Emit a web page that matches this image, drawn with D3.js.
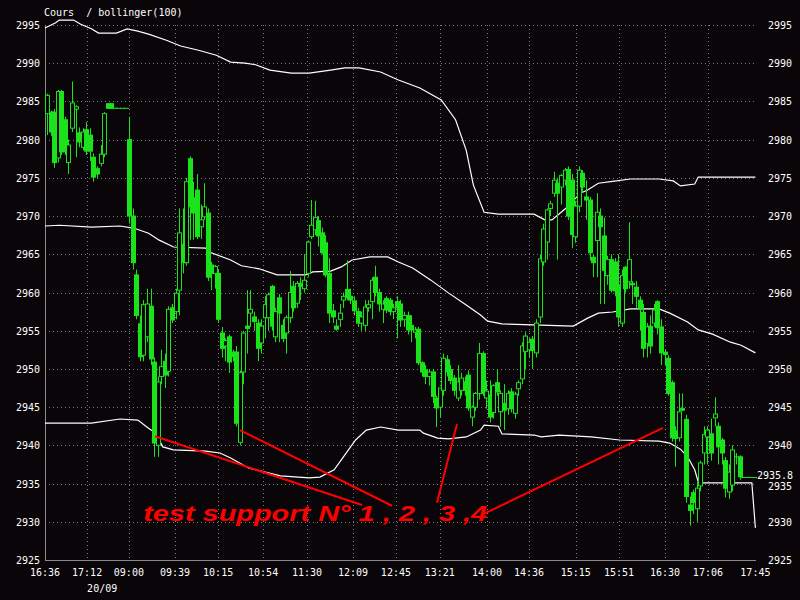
<!DOCTYPE html>
<html><head><meta charset="utf-8">
<script src="https://cdn.jsdelivr.net/npm/d3@7"></script>
<style>
html,body{margin:0;padding:0;background:#0a0508;}
svg{display:block;}
text{font-family:"DejaVu Sans Mono",monospace;font-size:10px;fill:#ffffff;}
</style></head><body>
<svg id="c" width="800" height="600"></svg>
<script>
// ---- data (3-minute candles, index = slot) ----
const opens = [2983.4,2983.6,2983.6,2977.6,2986.3,2982.6,2977,2981.5,2984,2980.9,2979,2981.3,2980.6,2977.7,2976.2,2976.9,2978.1,2984.7,2984.7,2984.1,2984.1,2984.1,2984.1,
2980,2970,2962.3,2955.9,2951.8,2954.2,2958.2,2950.9,2940,2949,2951,2949.7,2958,2957.5,2960.3,2966.3,2963.9,2977.5,2972.4,2973.4,2968.6,2969.9,2970.4,2963.6,2962.5,2962.5,2954.7,2953,2954.2,2952.2,2952.2,2940.4,2949.6,2955.6,2957.3,2956.8,2956,
2953.4,2956.7,2956.7,2960.8,2954.2,2959.3,2955.7,2954.7,2956.7,2960.8,2958.6,2961.2,2960.5,2962.5,2967.3,2968.2,2969.4,2967.8,2966.5,2962.5,2957.6,2955.6,2956.5,2959,2960.4,2959.5,2958.9,2957.5,2956,2955.7,2958,2958.8,2962,2960,2957.8,2959.2,2959,2957.5,2958.8,2958.5,
2956.5,2957,2955.7,2954.8,2955.2,2950.8,2949.9,2949,2949.6,2946.2,2945,2947.2,2951.2,2949.9,2948.8,2946.2,2947.2,2948.3,2949.2,2943.7,2945,2946.8,2952,2946.2,2946.6,2944.3,2948.2,2944.4,2945.5,2944.8,2947,2944.2,2947.4,2948.7,2952.3,2952.5,2953.9,2952.1,2956.8,2964,
2966.6,2971,2973,2974.3,2973.8,2974.7,2976.1,2974.7,2967.3,2971.3,2975.6,2972.5,2972.1,2964.6,2966.8,2970,2967.4,2962.2,2964.3,2964,2961,2956,2963.3,2961.4,2961.2,2960.7,2959,2957.4,2953.3,2955.6,2956,2958.8,2955.5,2952.2,2951.4,2948.2,2941.9,2941,2944.8,2943.4,
2932.2,2933.8,2931.7,2934.7,2939,2941.1,2941.5,2943.6,2942.5,2940.7,2938,2933.9,2934.8,2938.5,2938.5,2935.8,2935.8,2935.8,2935.8];
const highs = [2986,2983.8,2984,2986.5,2986.5,2983,2980,2987.6,2984.5,2981.6,2981.5,2982.3,2981.5,2978.2,2976.5,2979.3,2983.6,2984.7,2984.7,2984.1,2984.1,2984.1,2984.1,
2983,2971,2963,2957,2959,2960.5,2960.5,2951.5,2949,2952.5,2952,2958.2,2958.5,2960.5,2971,2971,2975,2977.8,2974.5,2975.5,2971.5,2974.3,2971,2964,2963.6,2963,2955.5,2954,2954.5,2952.5,2953,2949.8,2955,2960.3,2960.3,2957.5,2956.5,
2956.5,2959.5,2960,2961,2958,2959.8,2956.5,2957,2962.8,2961.5,2961.5,2962,2965,2966.8,2972.1,2972,2970,2968.5,2967.5,2964.5,2958.5,2956.5,2958.5,2960,2964.2,2960.5,2959.5,2958,2957.5,2959,2959,2962,2963.5,2960.5,2959,2959.5,2959.3,2958.5,2959.5,2959,
2957.5,2957.5,2957,2955.5,2955.5,2951,2950.5,2950,2950,2946.5,2946.2,2952,2951.8,2950.5,2949.2,2950.5,2949.5,2949,2949.8,2945.2,2947,2953.4,2952.3,2948.5,2948.5,2948,2950,2947.2,2948,2947.2,2947.5,2947,2948.5,2953.5,2954.8,2954,2954.3,2956.5,2965,2969,
2971,2972,2975.8,2975,2975.5,2976.3,2976.5,2975.5,2972,2976.5,2976,2974.7,2972.5,2965,2973,2971,2969.8,2964.8,2965,2964.5,2965,2963,2963.5,2969.2,2961.5,2961.5,2959.5,2958.5,2956,2957,2958.5,2959,2956.5,2952.5,2951.8,2948.5,2942.5,2946.8,2946.8,2944,
2933.3,2934.2,2935.2,2938,2942.5,2942.5,2943.5,2946.3,2943,2941,2938.5,2937.5,2940,2939,2938.7,2935.8,2935.8,2935.8,2935.8];
const lows = [2980.6,2980.5,2976.3,2977,2978,2978,2975.5,2981,2977.7,2979,2978.6,2978,2977.2,2974.5,2975,2976.5,2977.7,2984.1,2984.1,2984.1,2984.1,2984.1,2984.1,
2969,2963,2956.5,2951,2951,2953.5,2950.5,2938.5,2938.5,2948,2947.5,2949,2956,2956.5,2957,2962.5,2963.5,2966.9,2966.9,2967,2967,2969.5,2961.5,2960.3,2960.5,2956,2951.5,2951,2949.5,2951,2942.5,2940,2948,2952,2955.5,2955,2951,
2952,2954,2955,2955,2953.5,2953.5,2953.5,2952,2956,2957.5,2958,2959,2960,2962,2967,2967.5,2966,2965,2962,2956,2956,2955,2955.5,2958,2959,2958.5,2957,2955.5,2955,2955,2957.5,2956.5,2959.5,2957.5,2956,2957.3,2957,2956.5,2954,2955.5,
2955.5,2954.5,2953.5,2954,2950.5,2949,2948,2947.8,2945.5,2942.4,2943.7,2946.5,2949,2948,2946.5,2945.8,2946.5,2946.5,2944.5,2942.5,2944.5,2946,2946.5,2944.8,2943,2943.5,2946.5,2942.4,2942,2944,2944.3,2943.5,2946.5,2948,2950,2951.5,2950,2951.5,2956,2963.5,
2964.3,2970,2972.5,2964.3,2971.5,2974,2969.5,2965.8,2966.5,2970.5,2973,2969.5,2964.2,2962,2962,2958.5,2958.5,2961,2960,2959.5,2955.5,2955.5,2960,2960.5,2958.5,2958,2955,2951.5,2951.5,2952,2955.5,2954.5,2950.5,2950.5,2946.5,2940.5,2937.2,2940.5,2944.5,2932.5,
2929.5,2931,2930,2934,2937.5,2937.5,2938,2942.5,2937.5,2937.5,2933.2,2933,2934,2937.5,2935.5,2935.8,2935.8,2935.8,2935.8];
const closes = [2985.8,2981,2977,2986.3,2978.4,2978.4,2979.3,2984.8,2984.3,2979.7,2981,2978.5,2978.5,2975.1,2975.5,2978.1,2983.4,2984.1,2984.1,2984.1,2984.1,2984.1,2984.1,
2970,2963.9,2957,2951.6,2958.4,2958.5,2951.3,2940.3,2948.3,2950.3,2949.2,2957.8,2956.4,2959.9,2967.8,2963.9,2974.5,2971.2,2970.4,2967.3,2969.5,2971.2,2962,2962.5,2963.4,2956.5,2952.7,2953.7,2950.9,2951.6,2942.9,2949.5,2954.7,2955.3,2957.8,2956.2,2952.7,
2955.6,2958.4,2959.7,2955.6,2957.5,2957.3,2954,2956.7,2960,2958,2961.2,2960.8,2961.6,2966.6,2968.8,2969.8,2967.4,2965.2,2962.3,2957.3,2956.8,2955.2,2957.3,2959.5,2959.3,2959,2957.6,2956,2956.8,2958.1,2958.4,2961.6,2960,2958.5,2958.5,2957.7,2957.5,2958,2958,2956.4,
2957,2955.1,2955.1,2955.1,2950.8,2949.6,2949,2949.6,2946.4,2944.9,2947.5,2951.4,2949.6,2948.5,2947.2,2948.3,2948.8,2947.2,2944.9,2945,2946.8,2952,2946.8,2947.1,2943.7,2947.8,2947,2946.8,2944.6,2946.8,2944.8,2946.7,2948.2,2953,2954.3,2953.5,2952.4,2956,2964.4,2968.3,
2970.8,2971.6,2974.7,2973,2975.3,2976,2970,2967.6,2971.3,2976,2973.8,2972.1,2965.2,2963.9,2970.5,2968.6,2962.9,2964.3,2960.3,2960.2,2956.8,2962.2,2960.5,2964.3,2961,2959.5,2957.8,2952.7,2955.5,2953,2957.7,2955.4,2952.1,2951.9,2946.8,2941,2940.9,2944.4,2944.6,2933.3,
2931.5,2932.5,2934.4,2937.7,2941.4,2942,2939,2944.1,2939.8,2939,2934.4,2936.5,2939.4,2938.5,2935.9,2935.8,2935.8,2935.8,2935.8];

// Bollinger(100) bands, sampled at slot indices
const bandIdx   = [0,3,4,8,10,13,15,20,23,26,29,34,38,43,48,52,56,59,63,69,74,80,84,88,94,99,105,111,115,118,120,123,127,137,140,142,146,150,152,155,159,164,172,176,178,182,183,199];
const upperBand = [2994.6,2995.3,2995.65,2995.65,2995.1,2994.5,2993.95,2993.95,2994.5,2994.2,2993.8,2993.0,2992.25,2991.7,2991.05,2990.15,2990.0,2989.8,2989.1,2988.7,2988.7,2989.1,2989.4,2989.4,2988.85,2987.8,2986.75,2985.2,2982.6,2978.6,2974.05,2970.5,2970.25,2970.25,2969.5,2969.5,2971.05,2973.0,2973.4,2974.3,2974.55,2974.85,2974.85,2974.6,2973.95,2974.2,2975.1,2975.1];
const midIdx    = [0,4,13,21,25,29,32,36,45,46,52,55,60,65,73,75,80,83,86,91,96,99,103,108,113,118,122,124,128,148,152,155,159,164,172,175,180,183,187,192,195,199];
const midBand   = [2968.7,2968.8,2968.55,2968.7,2968.4,2967.75,2966.85,2965.95,2965.8,2965.3,2964.25,2963.5,2963.1,2962.3,2962.3,2962.7,2962.8,2963.35,2964.25,2964.65,2964.65,2964.0,2963.2,2961.65,2959.95,2958.35,2957.05,2956.25,2955.9,2955.6,2956.65,2957.3,2957.45,2957.85,2957.85,2957.3,2956.15,2955.1,2954.55,2953.5,2953.1,2952.1];
const lowIdx    = [0,13,21,26,29,31,33,36,45,49,52,57,66,74,77,81,84,87,90,94,99,105,106,110,113,118,122,123,127,128,137,139,144,153,161,172,175,178,180,182,183,184,198,199];
const lowerBand = [2942.9,2942.9,2943.45,2943.3,2942.25,2941.6,2939.8,2939.4,2939.25,2939.0,2938.35,2937.05,2936.0,2935.75,2935.85,2936.8,2938.75,2940.7,2942.0,2942.4,2942.0,2942.0,2941.6,2940.95,2940.85,2941.1,2942.0,2942.65,2942.5,2941.5,2941.35,2941.1,2941.35,2941.1,2940.7,2940.55,2940.3,2939.5,2938.5,2936.8,2935.2,2935.1,2935.1,2929.2];

const priceTicks = d3.range(2925, 2996, 5);
const timeLabels = ["16:36","17:12","09:00","09:39","10:15","10:54","11:30","12:09","12:45","13:21","14:00","14:36","15:15","15:51","16:30","17:06","17:45"];
const timeIdx    = [0,11.8,23.5,36.4,48.5,61.1,73.4,86.3,98.3,110.6,123.8,135.6,148.7,160.8,173.7,185.7,199];
const dateLabel = "20/09";
const lastPrice = 2935.8;
const title = "Cours  / bollinger(100)";

// support annotation: from support point (slot, price) to label point
const supportFrom = [[30.8,2941.2],[54.6,2942.0],[115.4,2942.8],[173.1,2942.3]];
const supportTo   = [[88.8,2932.2],[97.2,2932.1],[109.8,2932.5],[123.2,2931.1]];
const annotText = "test support N° 1 , 2 , 3 ,4";
const annotAt = [27.5, 2930.1];

// ---- drawing ----
const svg = d3.select("#c");
const bg = "#0a0508", green = "#1be31b", grid = "#7a7a7a";
svg.append("rect").attr("width",800).attr("height",600).attr("fill",bg);

const x = d3.scaleLinear().domain([0,199]).range([45,755.4]);
const y = d3.scaleLinear().domain([2925,2995]).range([560,25]);
const X0 = 45, X1 = 756, Y0 = 560, Y1 = 25;

// gridlines
svg.append("g").selectAll("line").data(priceTicks.filter(d=>d>2925)).join("line")
  .attr("x1",X0).attr("x2",X1).attr("y1",d=>Math.round(y(d))+0.5).attr("y2",d=>Math.round(y(d))+0.5)
  .attr("stroke",grid).attr("stroke-dasharray","1,3");
svg.append("g").selectAll("line").data(timeIdx.slice(1,-1)).join("line")
  .attr("y1",Y1).attr("y2",Y0).attr("x1",d=>Math.round(x(d))+0.5).attr("x2",d=>Math.round(x(d))+0.5)
  .attr("stroke",grid).attr("stroke-dasharray","1,3");

// axes lines
svg.append("line").attr("x1",X0+0.5).attr("x2",X0+0.5).attr("y1",Y1).attr("y2",Y0).attr("stroke","#8a8a8a");
svg.append("line").attr("x1",X0).attr("x2",X1).attr("y1",Y0+0.5).attr("y2",Y0+0.5).attr("stroke","#8a8a8a");

// y labels
svg.append("g").selectAll("text").data(priceTicks).join("text")
  .attr("x",40).attr("y",d=>y(d)+4).attr("text-anchor","end").text(d=>d);
svg.append("g").selectAll("text").data(priceTicks.filter(d=>d!==2935)).join("text")
  .attr("x",768).attr("y",d=>y(d)+4).attr("text-anchor","start").text(d=>d);
// right label 2935 sits partly under the last-price tag (as in the source)
svg.append("text").attr("x",768).attr("y",y(2935)+6).attr("text-anchor","start").text(2935);

// x labels
svg.append("g").selectAll("text").data(timeLabels).join("text")
  .attr("x",(d,i)=>x(timeIdx[i])).attr("y",576).attr("text-anchor","middle").text(d=>d);
svg.append("text").attr("x",x(timeIdx[1])).attr("y",592).text(dateLabel);

// title
svg.append("text").attr("x",44).attr("y",16).attr("xml:space","preserve").style("white-space","pre").text(title);

// bands
function band(idx, vals){
  const pts = idx.map((d,i)=>[d, vals[i]]);
  svg.append("path").datum(pts)
    .attr("d", d3.line().x(d=>x(d[0])).y(d=>y(d[1])))
    .attr("fill","none").attr("stroke","#ffffff").attr("stroke-width",1.2);
}
band(bandIdx, upperBand);
band(midIdx, midBand);
band(lowIdx, lowerBand);

// candles
const candles = opens.map((o,i)=>({i, o, h:highs[i], l:lows[i], c:closes[i]}));
const cg = svg.append("g");
cg.selectAll("line").data(candles).join("line")
  .attr("x1",d=>Math.round(x(d.i))+2.5).attr("x2",d=>Math.round(x(d.i))+2.5)
  .attr("y1",d=>y(d.h)).attr("y2",d=>y(d.l)).attr("stroke",green);
cg.selectAll("rect").data(candles).join("rect")
  .attr("x",d=>Math.round(x(d.i))+0.5)
  .attr("y",d=>y(Math.max(d.o,d.c)))
  .attr("width",4)
  .attr("height",d=>Math.max(0.01, y(Math.min(d.o,d.c))-y(Math.max(d.o,d.c))))
  .attr("fill",d=>d.c>d.o ? bg : green)
  .attr("stroke",green).attr("stroke-width",1);

// last price label
svg.append("rect").attr("x",757).attr("y",y(lastPrice)-7).attr("width",38).attr("height",10).attr("fill",bg);
svg.append("text").attr("x",757).attr("y",y(lastPrice)+2).text(lastPrice.toFixed(1));

// annotation
const ag = svg.append("g");
ag.selectAll("line").data(supportFrom).join("line")
  .attr("x1",d=>x(d[0])).attr("y1",d=>y(d[1]))
  .attr("x2",(d,i)=>x(supportTo[i][0])).attr("y2",(d,i)=>y(supportTo[i][1]))
  .attr("stroke","#ff0000").attr("stroke-width",2);
ag.append("text").attr("x",x(annotAt[0])).attr("y",y(annotAt[1]))
  .attr("textLength",344).attr("lengthAdjust","spacingAndGlyphs")
  .style("font-family","'Liberation Sans',Arial,sans-serif").style("font-size","22px")
  .style("font-weight","bold").style("font-style","italic").style("fill","#ff0000")
  .text(annotText);
</script></body></html>
